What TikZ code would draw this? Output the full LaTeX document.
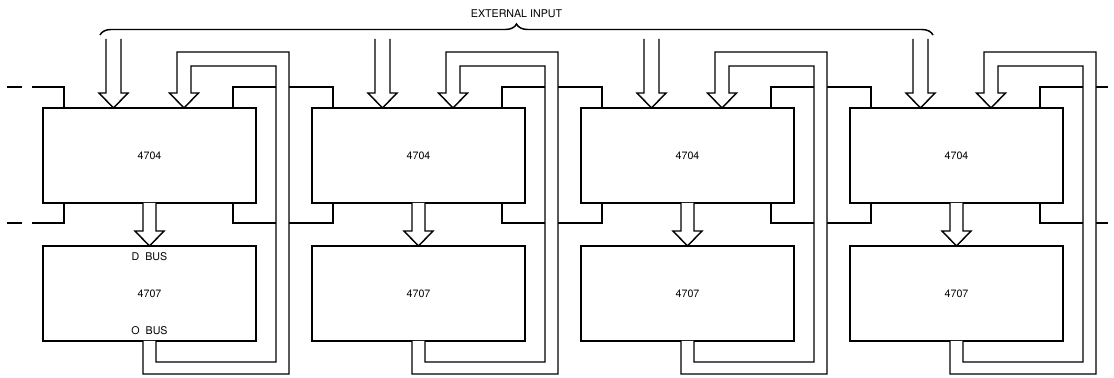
\documentclass[tikz,border=0pt]{standalone}
\usepackage{fontspec}
\setsansfont{TeX Gyre Heros}
\usepackage{tikz}
\usetikzlibrary{positioning, calc, decorations.pathreplacing}

\begin{document}
\begin{tikzpicture}[
  x=0.75pt, y=0.75pt,
  node distance=32.25pt and 42pt,
  font=\sffamily\fontsize{8}{9.6}\selectfont,
  chip/.style ={rectangle, draw, line width=2pt, minimum width=159.75pt, minimum height=71.25pt, inner sep=0pt, outer sep=0pt},
  lbl/.style  ={inner sep=0pt},
  wire/.style ={line width=1.1pt},
  bus/.style  ={line width=1.1pt, fill=white},
  ends/.style ={line width=1.1pt, dash pattern=on 11.25pt off 7.5pt on 60pt}
  ]
  \useasboundingbox (0,0) rectangle (1114,378);

  \node[chip, anchor=north west] (ua) at (43,270) {4704};
  \node[chip, right=of ua] (ub) {4704};
  \node[chip, right=of ub] (uc) {4704};
  \node[chip, right=of uc] (ud) {4704};
  \node[chip, below=of ua] (la) {4707};
  \node[chip, below=of ub] (lb) {4707};
  \node[chip, below=of uc] (lc) {4707};
  \node[chip, below=of ud] (ld) {4707};

  \node[lbl, below=4.5pt of la.north] (dbus) {D\ \ BUS};
  \node[lbl, above=4.5pt of la.south] (obus) {O\ \ BUS};

  % free ends of the chain
  \coordinate (inup)  at (7,291);
  \coordinate (indn)  at (7,155);
  \coordinate (outup) at (1108,291);
  \coordinate (outdn) at (1108,155);

  % chain lines, top and bottom
  \draw[ends] (inup) -| ($(ua.north west)+(21,0)$);
  \draw[ends] (indn) -| ($(ua.south west)+(21,0)$);
  \draw[wire] ($(ua.north west)+(190,0)$) -- ++(0,21) -| ($(ub.north west)+(21,0)$);
  \draw[wire] ($(ub.north west)+(190,0)$) -- ++(0,21) -| ($(uc.north west)+(21,0)$);
  \draw[wire] ($(uc.north west)+(190,0)$) -- ++(0,21) -| ($(ud.north west)+(21,0)$);
  \draw[wire] ($(ud.north west)+(190,0)$) |- (outup);
  \draw[wire] ($(ua.south west)+(190,0)$) -- ++(0,-20) -| ($(ub.south west)+(21,0)$);
  \draw[wire] ($(ub.south west)+(190,0)$) -- ++(0,-20) -| ($(uc.south west)+(21,0)$);
  \draw[wire] ($(uc.south west)+(190,0)$) -- ++(0,-20) -| ($(ud.south west)+(21,0)$);
  \draw[wire] ($(ud.south west)+(190,0)$) |- (outdn);

  % external input
  \draw[bus] ($(ua.north west)+(63,69)$) -- ++(0,-54) -- ++(-7,0) -- ++(14.5,-15) -- ++(14.5,15) -- ++(-7,0) -- ++(0,54);
  \draw[bus] ($(ub.north west)+(63,69)$) -- ++(0,-54) -- ++(-7,0) -- ++(14.5,-15) -- ++(14.5,15) -- ++(-7,0) -- ++(0,54);
  \draw[bus] ($(uc.north west)+(63,69)$) -- ++(0,-54) -- ++(-7,0) -- ++(14.5,-15) -- ++(14.5,15) -- ++(-7,0) -- ++(0,54);
  \draw[bus] ($(ud.north west)+(63,69)$) -- ++(0,-54) -- ++(-7,0) -- ++(14.5,-15) -- ++(14.5,15) -- ++(-7,0) -- ++(0,54);

  % D bus
  \draw[bus] ($(ua.south west)+(100,0)$) -- ++(0,-28) -- ++(-8,0) -- ++(14.5,-15) -- ++(14.5,15) -- ++(-8,0) -- ++(0,28);
  \draw[bus] ($(ub.south west)+(100,0)$) -- ++(0,-28) -- ++(-8,0) -- ++(14.5,-15) -- ++(14.5,15) -- ++(-8,0) -- ++(0,28);
  \draw[bus] ($(uc.south west)+(100,0)$) -- ++(0,-28) -- ++(-8,0) -- ++(14.5,-15) -- ++(14.5,15) -- ++(-8,0) -- ++(0,28);
  \draw[bus] ($(ud.south west)+(100,0)$) -- ++(0,-28) -- ++(-8,0) -- ++(14.5,-15) -- ++(14.5,15) -- ++(-8,0) -- ++(0,28);

  % O bus back to the 4704
  \draw[bus] ($(la.south west)+(100,0)$) -- ++(0,-33) -- ++(146,0) -- ++(0,322) -- ++(-112,0) -- ++(0,-41) -- ++(-7.5,0) -- ++(14.5,-15) -- ++(14.5,15) -- ++(-7.5,0) -- ++(0,27) -- ++(85,0) -- ++(0,-296) -- ++(-120,0) -- ++(0,21);
  \draw[bus] ($(lb.south west)+(100,0)$) -- ++(0,-33) -- ++(146,0) -- ++(0,322) -- ++(-112,0) -- ++(0,-41) -- ++(-7.5,0) -- ++(14.5,-15) -- ++(14.5,15) -- ++(-7.5,0) -- ++(0,27) -- ++(85,0) -- ++(0,-296) -- ++(-120,0) -- ++(0,21);
  \draw[bus] ($(lc.south west)+(100,0)$) -- ++(0,-33) -- ++(146,0) -- ++(0,322) -- ++(-112,0) -- ++(0,-41) -- ++(-7.5,0) -- ++(14.5,-15) -- ++(14.5,15) -- ++(-7.5,0) -- ++(0,27) -- ++(85,0) -- ++(0,-296) -- ++(-120,0) -- ++(0,21);
  \draw[bus] ($(ld.south west)+(100,0)$) -- ++(0,-33) -- ++(146,0) -- ++(0,322) -- ++(-112,0) -- ++(0,-41) -- ++(-7.5,0) -- ++(14.5,-15) -- ++(14.5,15) -- ++(-7.5,0) -- ++(0,27) -- ++(85,0) -- ++(0,-296) -- ++(-120,0) -- ++(0,21);

  % brace over the inputs
  \draw[wire, decorate, decoration={brace, amplitude=8.25pt}]
    ($(ua.north west)+(57,73)$) coordinate (bl) -- ($(ud.north west)+(83,73)$) coordinate (br);
  \node[lbl, above=4.5pt] (ext) at ($(bl)!0.5!(br)+(0,11)$) {EXTERNAL INPUT};

\end{tikzpicture}
\end{document}
